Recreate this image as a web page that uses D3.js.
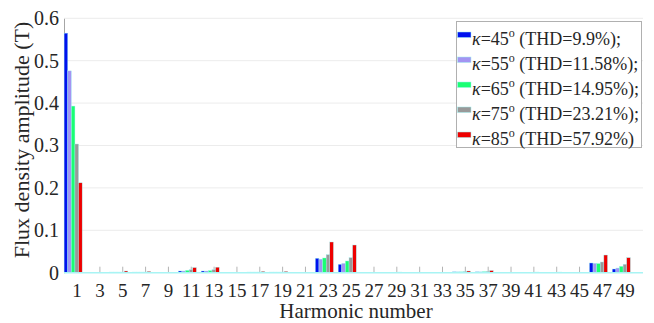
<!DOCTYPE html>
<html>
<head>
<meta charset="utf-8">
<script src="https://cdn.jsdelivr.net/npm/d3@7"></script>
<style>
  html, body { margin: 0; padding: 0; background: #fff; }
  svg { display: block; }
  text { font-family: "Liberation Serif", "Times New Roman", serif; fill: #262626; }
</style>
</head>
<body>
<svg id="chart" width="654" height="323"></svg>
<script>
// Odd harmonic orders shown on the x axis
const harmonics = [1, 3, 5, 7, 9, 11, 13, 15, 17, 19, 21, 23, 25, 27, 29, 31, 33, 35, 37, 39, 41, 43, 45, 47, 49];

// Flux density amplitude (T) per harmonic, one array per kappa angle
const k45 = [0.565, 0.0005, 0.0015, 0.0015, 0.0005, 0.004, 0.004, 0.0005, 0.0015, 0.0015, 0.0005, 0.034, 0.0198, 0.0005, 0.001, 0.001, 0.0005, 0.002, 0.002, 0.0005, 0.001, 0.001, 0.0005, 0.0229, 0.0087];
const k55 = [0.476, 0.0005, 0.0015, 0.0015, 0.0005, 0.004, 0.004, 0.0005, 0.0015, 0.0015, 0.0005, 0.032, 0.022, 0.0005, 0.001, 0.001, 0.0005, 0.002, 0.002, 0.0005, 0.001, 0.001, 0.0005, 0.022, 0.011];
const k65 = [0.393, 0.0005, 0.0015, 0.0015, 0.0005, 0.0055, 0.005, 0.0005, 0.0015, 0.0015, 0.0005, 0.0347, 0.0276, 0.0005, 0.001, 0.001, 0.0005, 0.002, 0.0025, 0.0005, 0.001, 0.001, 0.0005, 0.0215, 0.015];
const k75 = [0.3035, 0.0005, 0.0015, 0.0015, 0.0005, 0.007, 0.007, 0.0005, 0.0015, 0.0015, 0.0005, 0.0425, 0.0354, 0.0005, 0.001, 0.0012, 0.0005, 0.0025, 0.003, 0.0005, 0.001, 0.001, 0.0005, 0.0252, 0.0198];
const k85 = [0.212, 0.0005, 0.004, 0.003, 0.0005, 0.012, 0.013, 0.0005, 0.003, 0.003, 0.0005, 0.0724, 0.0653, 0.0005, 0.0015, 0.001, 0.0005, 0.004, 0.005, 0.0005, 0.0015, 0.0015, 0.0005, 0.0417, 0.0354];

const seriesValues = [k45, k55, k65, k75, k85];
const seriesAngles = ["45", "55", "65", "75", "85"];
const seriesTHD = ["9.9%);", "11.58%);", "14.95%);", "23.21%);", "57.92%)"];
const seriesColors = ["#0011ee", "#a394f2", "#1aff73", "#999999", "#ee0000"];

const yTicks = [0, 0.1, 0.2, 0.3, 0.4, 0.5, 0.6];

const svg = d3.select("#chart");
const plot = { left: 64, right: 643, top: 18.3, bottom: 272.7 };

const x = d3.scaleLinear().domain([-0.1, 50.6]).range([plot.left, plot.right]);
const y = d3.scaleLinear().domain([0, 0.6]).range([plot.bottom, plot.top]);

// bar group geometry in harmonic units
const groupShift = -0.3;
const groupWidth = 1.58;
const barW = groupWidth / seriesValues.length;

// horizontal grid lines
svg.append("g").selectAll("line")
  .data(yTicks.filter(d => d > 0))
  .join("line")
  .attr("x1", plot.left).attr("x2", plot.right)
  .attr("y1", d => y(d)).attr("y2", d => y(d))
  .attr("stroke", "#ececec").attr("stroke-width", 1);

// y axis
const yAxis = svg.append("g")
  .attr("transform", `translate(${plot.left},0)`)
  .call(d3.axisLeft(y).tickValues(yTicks).tickSize(0).tickPadding(5)
    .tickFormat(d => d === 0 ? "0" : d3.format(".1f")(d)));
yAxis.select(".domain").attr("stroke", "#a6a6a6");
yAxis.selectAll("text").attr("font-size", 20).attr("fill", "#262626")
  .attr("font-family", "Liberation Serif, serif");

// x axis tick marks (inside) and labels
const xAxis = svg.append("g")
  .attr("transform", `translate(0,${plot.bottom})`)
  .call(d3.axisBottom(x).tickValues(harmonics).tickSizeInner(-6).tickSizeOuter(0).tickPadding(10.5)
    .tickFormat(d3.format("d")));
xAxis.select(".domain").remove();
xAxis.selectAll(".tick line").attr("stroke", "#b3b3b3");
xAxis.selectAll("text").attr("font-size", 19).attr("fill", "#262626")
  .attr("font-family", "Liberation Serif, serif");

// grouped bars
const bars = svg.append("g");
seriesValues.forEach((vals, si) => {
  bars.append("g").selectAll("rect")
    .data(harmonics.map((h, i) => ({ h, v: vals[i] })))
    .join("rect")
    .attr("x", d => x(d.h + groupShift - groupWidth / 2 + si * barW))
    .attr("width", d => x(barW) - x(0))
    .attr("y", d => y(d.v))
    .attr("height", d => y(0) - y(d.v))
    .attr("fill", seriesColors[si])
    .attr("stroke", "#9ff0f0")
    .attr("stroke-width", 0.4);
});

// baseline
svg.append("line")
  .attr("x1", plot.left).attr("x2", plot.right)
  .attr("y1", plot.bottom).attr("y2", plot.bottom)
  .attr("stroke", "#a8f4f4").attr("stroke-width", 1.5);

// axis titles
svg.append("text")
  .attr("x", 356).attr("y", 318)
  .attr("text-anchor", "middle")
  .attr("font-size", 21)
  .text("Harmonic number");

svg.append("text")
  .attr("transform", "translate(29,140) rotate(-90)")
  .attr("text-anchor", "middle")
  .attr("font-size", 22)
  .text("Flux density amplitude (T)");

// legend
const legend = svg.append("g");
legend.append("rect")
  .attr("x", 456.5).attr("y", 21.5).attr("width", 185).attr("height", 126)
  .attr("fill", "#fff").attr("stroke", "#b0b0b0").attr("stroke-width", 1);

seriesAngles.forEach((a, i) => {
  const base = 45 + i * 25;
  legend.append("rect")
    .attr("x", 457.5).attr("y", base - 13).attr("width", 13.5).attr("height", 5.5)
    .attr("fill", seriesColors[i]).attr("stroke", "#9ff0f0").attr("stroke-width", 0.5);
  const t = legend.append("text").attr("x", 472).attr("y", base).attr("font-size", 18);
  t.append("tspan").attr("font-style", "italic").text("κ");
  t.append("tspan").text("=" + a);
  t.append("tspan").attr("font-size", 12).attr("dy", -8).text("o");
  t.append("tspan").attr("dy", 8).text(" (THD=" + seriesTHD[i]);
});
</script>
</body>
</html>
